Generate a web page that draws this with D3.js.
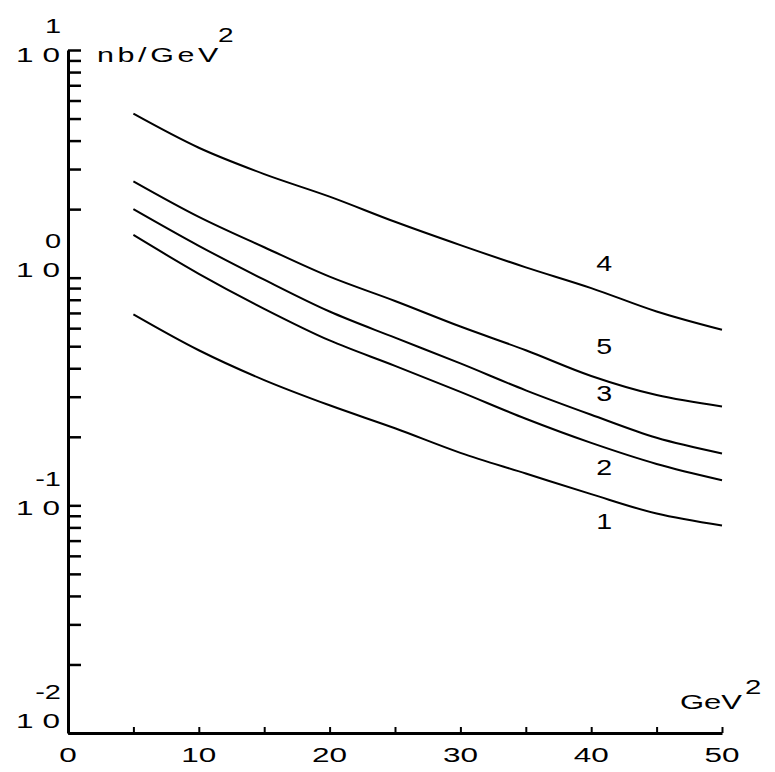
<!DOCTYPE html>
<html>
<head>
<meta charset="utf-8">
<script src="https://cdn.jsdelivr.net/npm/d3@7"></script>
<style>
  html, body { margin: 0; padding: 0; background: #ffffff; }
  svg { display: block; }
  text { font-family: "Liberation Sans", Arial, sans-serif; fill: #000; }
</style>
</head>
<body>
<script>
// ---- data ----
const xValues = [5, 10, 15, 20, 25, 30, 35, 40, 45, 50];
const curve1 = [0.69, 0.48, 0.355, 0.275, 0.218, 0.17, 0.138, 0.112, 0.092, 0.0815];
const curve2 = [1.54, 1.04, 0.73, 0.53, 0.41, 0.315, 0.24, 0.188, 0.152, 0.129];
const curve3 = [2.0, 1.38, 0.98, 0.71, 0.545, 0.42, 0.32, 0.25, 0.198, 0.169];
const curve4 = [5.25, 3.72, 2.85, 2.27, 1.76, 1.39, 1.11, 0.90, 0.71, 0.59];
const curve5 = [2.65, 1.85, 1.36, 1.01, 0.79, 0.61, 0.48, 0.37, 0.305, 0.272];
const curveNames = ["1", "2", "3", "4", "5"];
const labelX = [41, 41, 41, 41, 41];
const labelValues = [0.0857, 0.148, 0.31, 1.16, 0.503];
const xTickLabels = [0, 10, 20, 30, 40, 50];
const xMinorTicks = [5, 10, 15, 20, 25, 30, 35, 40, 45, 50];
const yDecades = [-2, -1, 0, 1];
const yUnit = "nb/GeV";
const xUnit = "GeV";

const W = 775, H = 772;
const svg = d3.select("body").append("svg").attr("width", W).attr("height", H);
svg.append("rect").attr("width", W).attr("height", H).attr("fill", "#fff");

const x = d3.scaleLinear().domain([0, 50]).range([68, 722]);
const y = d3.scaleLog().domain([0.01, 10]).range([733, 50]);

function txt(px, py, s, size, anchor, sx, ls) {
  const t = svg.append("text")
    .attr("transform", `translate(${px},${py}) scale(${sx},1)`)
    .attr("text-anchor", anchor)
    .attr("font-size", size)
    .text(s);
  if (ls) t.attr("letter-spacing", ls);
  return t;
}

// ---- y axis ----
const yTicks = [];
for (let k = -2; k <= 0; k++) {
  for (let i = 1; i <= 9; i++) yTicks.push(i * Math.pow(10, k));
}
yTicks.push(10);
const yAxis = svg.append("g").attr("transform", `translate(${x(0)},0)`)
  .call(d3.axisRight(y).tickValues(yTicks).tickSize(13).tickSizeOuter(0).tickFormat(""));
yAxis.select(".domain").attr("stroke", "#000").attr("stroke-width", 3);
yAxis.selectAll(".tick line").attr("stroke", "#000").attr("stroke-width", 2.5);

// ---- x axis ----
const xAxis = svg.append("g").attr("transform", `translate(0,${y(0.01)})`)
  .call(d3.axisTop(x).tickValues(xMinorTicks).tickSize(6).tickSizeOuter(0).tickFormat(""));
xAxis.select(".domain").attr("stroke", "#000").attr("stroke-width", 3);
xAxis.selectAll(".tick line").attr("stroke", "#000").attr("stroke-width", 2);

// x tick labels
xTickLabels.forEach(v => txt(x(v), y(0.01) + 29, String(v), 21, "middle", 1.5));

// y tick labels: 10 with exponent above (small per-label vertical nudges as in the original)
const yLabelNudge = { "-2": -5, "-1": 10, "0": -1, "1": 12 };
yDecades.forEach(k => {
  const py = y(Math.pow(10, k)) + yLabelNudge[String(k)];
  txt(16, py, "10", 21, "start", 1.5, 6);
  txt(61, py - 29, String(k), 20, "end", 1.45);
});

// units
txt(97, 62, yUnit, 21, "start", 1.45, 2.5);
txt(218, 42, "2", 20, "start", 1.4);
txt(680, 709, xUnit, 20, "start", 1.55);
txt(745, 694, "2", 21, "start", 1.4);

// ---- curves ----
const series = [curve1, curve2, curve3, curve4, curve5];
const line = d3.line()
  .x((d, i) => x(xValues[i]))
  .y(d => y(d))
  .curve(d3.curveCatmullRom.alpha(0.5));
svg.append("g").selectAll("path").data(series).join("path")
  .attr("d", line)
  .attr("fill", "none")
  .attr("stroke", "#000")
  .attr("stroke-width", 2);

// curve labels
curveNames.forEach((n, i) => {
  txt(x(labelX[i]), y(labelValues[i]) + 8, n, 22, "middle", 1.3);
});
</script>
</body>
</html>
